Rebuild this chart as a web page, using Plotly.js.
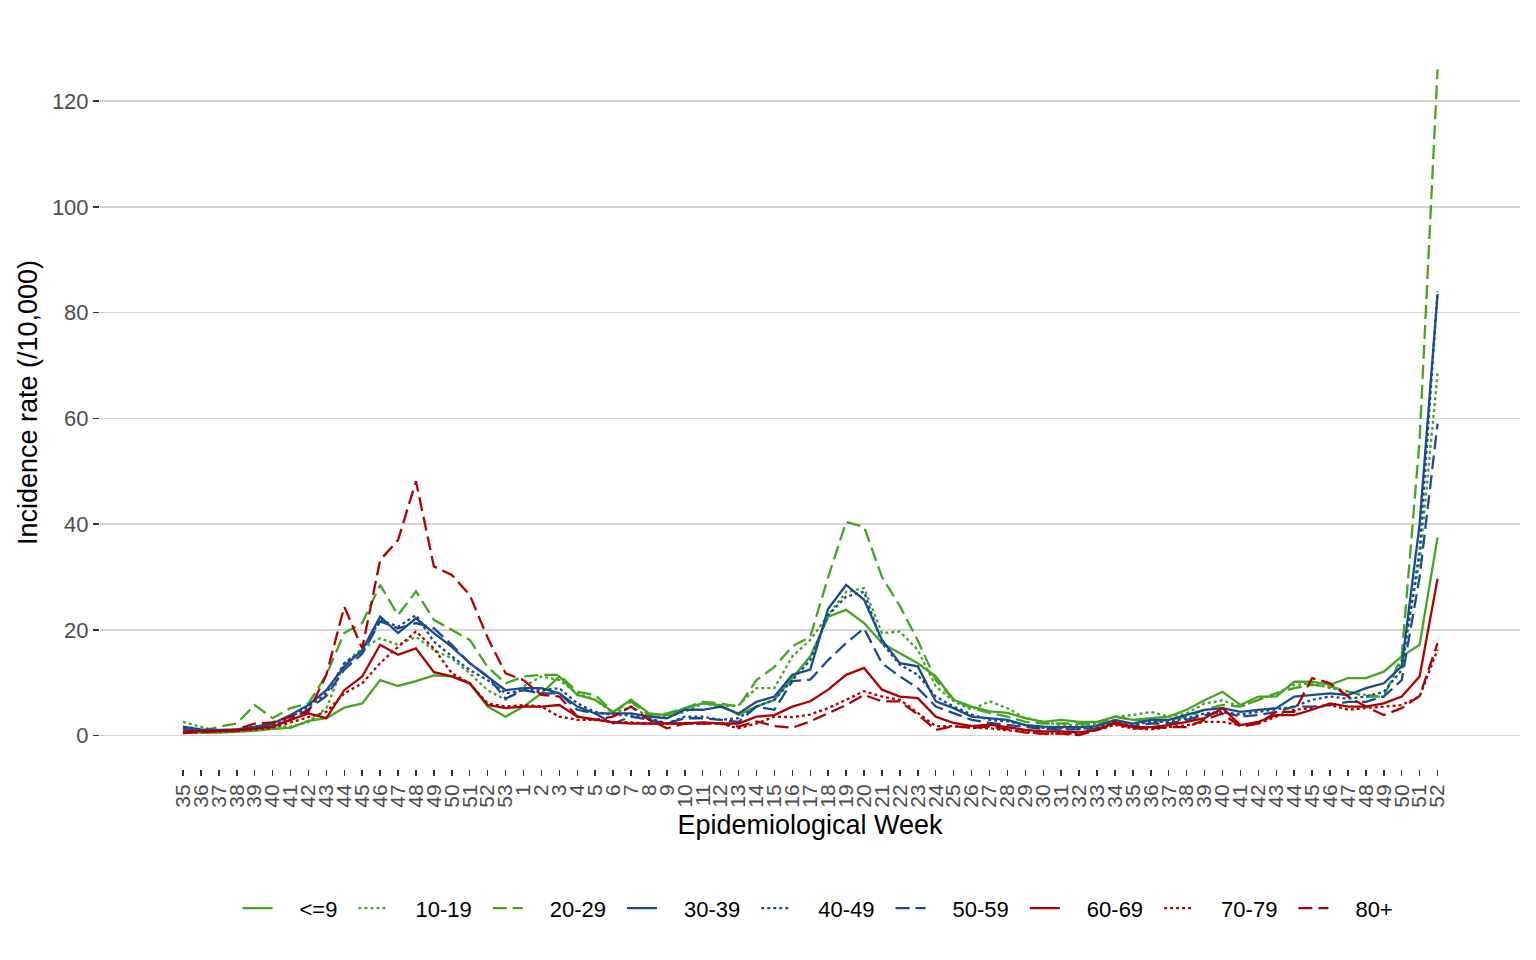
<!DOCTYPE html>
<html>
<head>
<meta charset="utf-8">
<script src="https://cdn.plot.ly/plotly-3.0.1.min.js"></script>
<style>html,body{margin:0;padding:0;background:#fff;}#chart{width:1536px;height:960px;}</style>
</head>
<body>
<div id="chart"></div>
<script>
// Epidemiological weeks (week 35 of year 1 through week 52 of year 2)
const weeks = ["35","36","37","38","39","40","41","42","43","44","45","46","47","48","49","50","51","52","53",
  "1","2","3","4","5","6","7","8","9","10","11","12","13","14","15","16","17","18","19","20","21","22","23","24","25","26",
  "27","28","29","30","31","32","33","34","35","36","37","38","39","40","41","42","43","44","45","46","47","48","49","50","51","52"];

const ageGroups = ["<=9","10-19","20-29","30-39","40-49","50-59","60-69","70-79","80+"];

const age_0_9 = [1.0,0.6,0.6,0.7,0.9,1.3,1.5,2.8,3.3,5.3,6.1,10.5,9.4,10.3,11.4,11.2,9.9,5.5,3.6,
  5.5,8.0,11.2,7.7,6.8,4.5,6.8,4.2,3.9,5.2,6.1,5.8,3.9,5.5,6.8,11.0,
  15.0,22.5,23.8,21.3,17.5,15.6,13.7,11.2,6.8,5.5,4.6,4.3,
  3.3,2.6,3.0,2.6,2.6,3.6,3.0,3.3,3.6,4.9,6.7,8.3,5.8,7.4,
  7.4,10.2,10.2,9.6,10.9,10.9,12.1,15.0,17.2,37.5];
const age_10_19 = [2.6,1.7,0.8,0.8,1.1,1.7,1.7,2.6,5.2,13.7,16.5,18.4,17.2,18.7,16.2,14.6,11.8,8.6,6.8,
  9.3,11.2,10.5,8.0,6.8,4.2,5.5,3.6,3.6,4.5,6.1,5.5,5.8,9.0,9.0,15.0,
  18.1,22.8,27.2,27.9,19.4,19.7,16.2,9.3,6.5,4.9,6.5,5.2,
  3.3,2.6,2.0,2.0,2.3,3.6,3.9,4.5,3.6,4.2,6.1,6.7,5.5,6.8,
  8.0,9.6,9.9,9.0,8.3,7.7,7.4,14.3,33.0,68.5];
const age_20_29 = [1.0,0.8,1.7,2.3,5.8,3.3,5.2,6.1,11.5,19.4,21.3,28.5,22.8,27.3,21.9,20.0,18.1,13.0,9.9,
  11.2,11.5,11.5,8.3,7.7,4.5,6.4,3.9,4.2,5.2,6.4,6.1,5.5,10.5,13.0,16.9,
  18.7,30.0,40.4,39.5,30.0,24.5,18.0,10.5,6.8,5.2,4.3,3.6,
  2.6,2.3,2.3,2.3,2.0,3.6,3.0,2.6,3.0,3.6,4.9,5.8,5.5,6.8,
  8.0,9.0,9.6,9.3,8.3,7.4,7.4,15.0,56.0,126.0];
const age_30_39 = [1.7,1.2,1.1,1.2,1.7,2.3,3.9,5.8,8.6,13.1,16.2,22.5,19.4,22.2,19.4,16.8,13.7,11.2,8.6,
  9.0,9.0,8.0,5.5,4.2,4.2,4.2,3.6,3.3,4.9,4.9,5.5,4.2,6.4,7.4,11.5,
  12.5,24.0,28.5,25.7,18.1,13.7,13.1,6.5,5.2,3.6,3.3,3.0,
  2.0,1.7,1.6,1.6,1.8,3.0,2.3,3.0,3.0,3.9,4.9,5.2,4.5,4.9,
  5.2,7.4,7.7,8.0,7.7,9.0,9.9,13.1,40.0,83.5];
const age_40_49 = [1.5,1.0,1.0,1.1,1.5,2.0,3.5,5.5,8.0,13.7,16.0,21.9,20.6,22.8,17.8,15.0,12.4,10.5,8.0,
  8.6,8.6,9.0,6.1,4.5,3.9,3.9,3.3,2.3,3.6,3.6,3.0,3.3,5.5,6.8,10.5,
  14.3,22.8,26.3,27.2,17.5,13.4,11.5,7.4,5.5,4.0,3.0,2.7,
  2.0,1.5,1.4,1.3,1.5,2.6,2.0,2.6,2.6,3.3,4.2,4.5,4.0,4.5,
  4.9,5.5,6.8,7.4,7.0,7.4,8.3,12.4,35.0,84.0];
const age_50_59 = [1.3,1.0,0.9,1.0,1.3,1.8,3.0,5.0,7.5,12.5,15.5,21.6,20.3,21.3,20.3,17.2,13.7,11.2,7.0,
  8.6,8.0,8.0,4.9,4.2,2.3,3.6,3.0,2.3,3.3,3.3,3.0,2.6,5.5,4.9,10.3,
  10.6,14.3,17.5,20.3,13.7,11.2,9.0,5.5,4.3,3.0,2.4,2.0,
  1.6,1.3,1.2,1.2,1.4,2.3,1.8,2.3,2.3,3.0,3.9,4.5,3.6,3.9,
  4.5,5.5,5.5,5.8,6.4,6.4,7.4,10.5,30.0,59.0];
const age_60_69 = [0.8,0.8,0.9,1.0,1.3,1.7,3.0,4.2,3.3,8.6,11.2,17.2,15.3,16.5,12.0,11.2,9.9,5.8,5.2,
  5.5,5.5,5.8,3.6,3.0,2.5,2.3,2.3,2.3,2.3,2.5,2.3,2.3,3.6,3.9,5.5,
  6.5,8.7,11.5,12.8,8.7,7.4,7.1,3.6,2.4,1.8,2.1,1.6,
  1.1,0.8,0.8,0.6,1.1,2.6,1.6,1.6,2.0,2.6,3.3,5.2,2.0,2.6,
  3.9,3.9,4.9,6.1,5.5,5.5,6.1,7.4,11.2,29.7];
const age_70_79 = [0.5,0.6,0.7,0.9,1.2,1.5,2.5,3.5,4.5,8.0,9.9,13.7,16.8,19.7,16.5,11.8,9.9,6.1,5.5,
  5.8,5.5,3.6,3.0,3.0,2.6,2.5,2.3,2.3,2.3,2.3,2.3,1.4,2.3,3.6,3.5,
  4.0,5.2,6.8,8.4,7.4,6.8,4.3,1.8,1.8,1.5,1.4,1.0,
  0.8,0.3,0.5,0.3,1.1,2.0,1.4,1.2,1.6,2.0,2.6,2.6,2.0,2.3,
  3.6,4.9,5.2,5.8,4.9,5.2,5.5,5.8,7.4,16.3];
const age_80p = [0.5,0.6,0.8,1.2,2.3,2.5,3.6,4.5,11.5,24.4,16.5,33.2,37.0,48.1,32.0,30.4,26.6,18.5,11.8,
  10.5,7.7,7.4,3.6,3.0,3.6,5.5,3.0,1.4,2.3,2.3,2.3,1.7,2.7,1.8,1.5,
  2.7,4.3,5.8,7.7,6.5,6.5,4.0,1.1,1.8,1.5,1.7,1.2,
  0.6,0.4,0.4,0.1,1.1,2.3,1.4,1.4,1.6,1.6,3.0,4.2,1.7,2.3,
  4.5,4.5,10.9,9.9,7.4,5.5,3.9,5.2,7.5,17.5];

const seriesValues = [age_0_9, age_10_19, age_20_29, age_30_39, age_40_49, age_50_59, age_60_69, age_70_79, age_80p];

const GREEN = "#45A521", BLUE = "#1A4B8F", RED = "#B00000";
const colors = [GREEN, GREEN, GREEN, BLUE, BLUE, BLUE, RED, RED, RED];
const DOT = "3px,3px", DASH = "14px,6px";
const dashes = ["solid", DOT, DASH, "solid", DOT, DASH, "solid", DOT, DASH];

const xIdx = weeks.map((w, i) => i);
const LEAD = "\u2002\u2002", TRAIL = "\u2002";

const traces = ageGroups.map((name, k) => ({
  type: "scatter",
  mode: "lines",
  name: LEAD + name + TRAIL,
  x: xIdx,
  y: seriesValues[k],
  line: {color: colors[k], width: 2.3, dash: dashes[k]},
  hoverinfo: "skip"
}));

const FONT = "Liberation Sans, Arial, sans-serif";

const layout = {
  width: 1536, height: 960,
  margin: {l: 100, r: 16, t: 36, b: 191},
  paper_bgcolor: "#ffffff", plot_bgcolor: "#ffffff",
  font: {family: FONT, color: "#000000"},
  showlegend: true,
  xaxis: {
    range: [-4.63, 74.6],
    tickmode: "array",
    tickvals: xIdx,
    ticktext: weeks,
    tickangle: -90,
    ticks: "outside", ticklen: 6, tickwidth: 1.5, tickcolor: "#333333",
    tickfont: {family: FONT, size: 21, color: "#4d4d4d"},
    showgrid: false, zeroline: false, showline: false,
    title: {text: "Epidemiological Week", font: {family: FONT, size: 27, color: "#000"}, standoff: 8},
    automargin: false
  },
  yaxis: {
    range: [-6.3, 132.3],
    tickvals: [0, 20, 40, 60, 80, 100, 120],
    ticks: "outside", ticklen: 6, tickwidth: 1.5, tickcolor: "#333333",
    tickfont: {family: FONT, size: 22, color: "#4d4d4d"},
    showgrid: true, gridcolor: "#d3d3d3", gridwidth: 1.6,
    zeroline: false, showline: false,
    title: {text: "Incidence rate (/10,000)", font: {family: FONT, size: 27, color: "#000"}, standoff: 6},
    automargin: false
  },
  legend: {
    orientation: "h",
    x: 0.5095, xanchor: "center",
    y: -0.19, yanchor: "middle",
    font: {family: FONT, size: 22, color: "#000"},
    bgcolor: "rgba(0,0,0,0)",
    itemclick: false, itemdoubleclick: false
  }
};

Plotly.newPlot("chart", traces, layout, {staticPlot: true, displayModeBar: false});
</script>
</body>
</html>
